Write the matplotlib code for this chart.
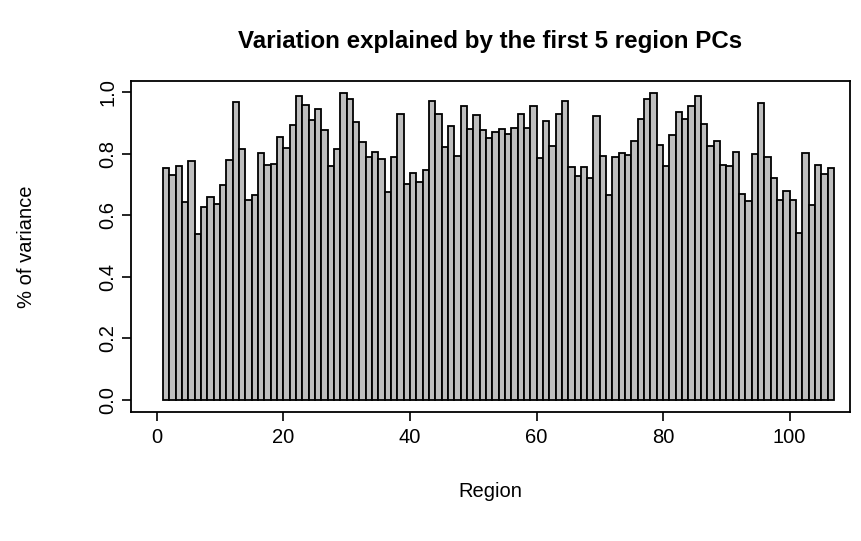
import matplotlib
matplotlib.use("Agg")
import matplotlib.pyplot as plt

plt.rcParams['font.family'] = ['Liberation Sans', 'DejaVu Sans']

# share of variance explained per region (first 5 PCs)
region = list(range(1, 107))
variance = [
    0.755, 0.730, 0.760, 0.644, 0.776, 0.538, 0.627, 0.658, 0.636, 0.699,
    0.779, 0.968, 0.814, 0.651, 0.666, 0.803, 0.765, 0.768, 0.855, 0.820,
    0.894, 0.987, 0.957, 0.911, 0.947, 0.877, 0.760, 0.816, 0.996, 0.977,
    0.904, 0.839, 0.790, 0.806, 0.782, 0.675, 0.789, 0.929, 0.703, 0.738,
    0.709, 0.747, 0.971, 0.929, 0.823, 0.891, 0.792, 0.956, 0.880, 0.926,
    0.877, 0.850, 0.870, 0.879, 0.864, 0.883, 0.929, 0.885, 0.956, 0.785,
    0.905, 0.826, 0.929, 0.973, 0.758, 0.728, 0.758, 0.720, 0.923, 0.792,
    0.666, 0.790, 0.802, 0.795, 0.843, 0.912, 0.977, 0.996, 0.828, 0.760,
    0.860, 0.937, 0.914, 0.956, 0.988, 0.898, 0.825, 0.843, 0.763, 0.760,
    0.805, 0.670, 0.645, 0.799, 0.966, 0.788, 0.720, 0.651, 0.679, 0.651,
    0.543, 0.804, 0.635, 0.763, 0.734, 0.755,
]
xticks = [0, 20, 40, 60, 80, 100]
yticks = [0.0, 0.2, 0.4, 0.6, 0.8, 1.0]

fig = plt.figure(figsize=(8.61, 5.41), dpi=100)
ax = fig.add_axes([0.152, 0.238, 0.835, 0.612])

ax.bar(region, variance, width=1, align='edge', color='#bebebe',
       edgecolor='black', linewidth=1.3)

ax.set_xlim(-4.1, 109.5)
ax.set_ylim(-0.04, 1.036)
ax.set_xticks(xticks)
ax.set_yticks(yticks)
ax.set_yticklabels([f"{t:.1f}" for t in yticks], rotation=90, va='center')
ax.tick_params(direction='out', length=6.5, width=1.2, labelsize=14.5)
ax.tick_params(axis='x', pad=5)
ax.tick_params(axis='y', pad=3)

for s in ax.spines.values():
    s.set_linewidth(1.3)

ax.set_title("Variation explained by the first 5 region PCs",
             fontsize=17.4, fontweight='bold', pad=24)
ax.set_xlabel("Region", fontsize=14.5, labelpad=25)
ax.set_ylabel("% of variance", fontsize=14.5, labelpad=45)

fig.savefig("out.png", dpi=100)
